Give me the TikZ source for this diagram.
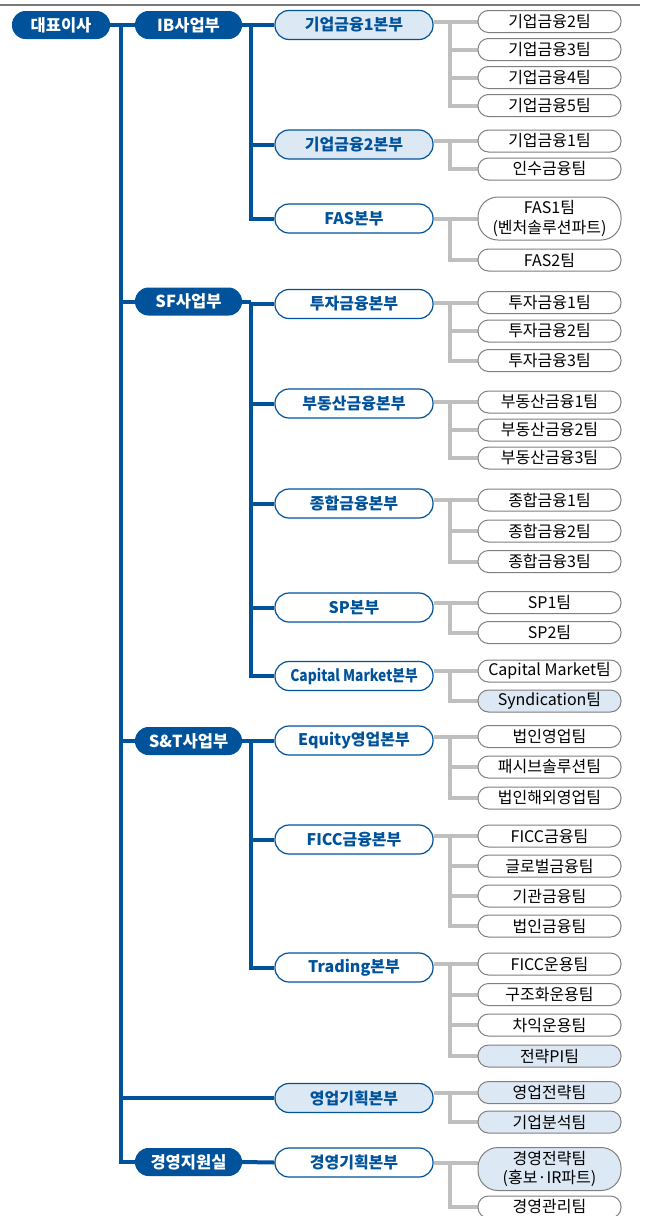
\documentclass[tikz,border=0pt]{standalone}
\usepackage{fontspec}
\setmainfont{Noto Sans CJK KR}
\usetikzlibrary{backgrounds}
\definecolor{dblue}{HTML}{00539B}
\definecolor{lblue}{HTML}{DDE8F5}
\definecolor{cgray}{HTML}{BFBFBF}
\definecolor{bgray}{HTML}{7F7F7F}
\definecolor{rule}{HTML}{7A7A7A}
\tikzset{
  lvl/.style={fill=dblue, text=white, font=\fontsize{16.5}{18}\selectfont\bfseries, minimum height=28pt, rounded corners=13.5pt, inner sep=0pt},
  topbox/.style={lvl, minimum width=98pt},
  divbox/.style={lvl, minimum width=107pt},
  hq/.style={draw=dblue, line width=1.2pt, fill=white, text=dblue, font=\fontsize{16}{18}\selectfont\bfseries, minimum width=158pt, minimum height=29pt, rounded corners=14pt, inner sep=0pt},
  hql/.style={hq, fill=lblue},
  team/.style={draw=bgray, line width=1pt, fill=white, text=black, font=\fontsize{16}{19.5}\selectfont, minimum width=143pt, minimum height=22pt, rounded corners=10.5pt, inner sep=0pt, align=center},
  teaml/.style={team, fill=lblue},
  teamtwo/.style={team, minimum height=43pt, rounded corners=20pt},
  bl/.style={draw=dblue, line width=4pt},
  gl/.style={draw=cgray, line width=4pt},
}
\begin{document}
\begin{tikzpicture}[x=1pt, y=-1pt]
\useasboundingbox (0,0) rectangle (649,1216);
\draw[rule, line width=2.5pt] (0,5) -- (640,5);

% top levels
\node[topbox] (ceo) at (61,25) {대표이사};
\node[divbox] (ib) at (188.5,25) {IB사업부};
\node[divbox] (sf) at (188.5,301.5) {SF사업부};
\node[divbox] (st) at (188.5,741) {S\&T사업부};
\node[divbox] (ms) at (188.5,1162) {경영지원실};

% HQ level
\node[hql] (b11) at (354,25) {기업금융1본부};
\node[hql] (b12) at (354,144.5) {기업금융2본부};
\node[hq] (b13) at (354,218.5) {FAS본부};
\node[hq] (b21) at (354,304) {투자금융본부};
\node[hq] (b22) at (354,403.5) {부동산금융본부};
\node[hq] (b23) at (354,503.5) {종합금융본부};
\node[hq] (b24) at (354,607.5) {SP본부};
\node[hq] (b25) at (354,676) {\scalebox{0.86}[1]{Capital Market본부}};
\node[hq] (b31) at (354,740.5) {Equity영업본부};
\node[hq] (b32) at (354,839.5) {FICC금융본부};
\node[hq] (b33) at (354,967.5) {Trading본부};
\node[hql] (b41) at (354,1098) {영업기획본부};
\node[hq] (b51) at (354,1162.5) {경영기획본부};

% teams
\node[team] (t11a) at (549.5,21.5) {기업금융2팀};
\node[team] (t11b) at (549.5,49.5) {기업금융3팀};
\node[team] (t11c) at (549.5,77.5) {기업금융4팀};
\node[team] (t11d) at (549.5,105.5) {기업금융5팀};
\node[team] (t12a) at (549.5,141) {기업금융1팀};
\node[team] (t12b) at (549.5,169) {인수금융팀};
\node[teamtwo] (t13a) at (549.5,218.5) {FAS1팀\\(벤처솔루션파트)};
\node[team] (t13b) at (549.5,260) {FAS2팀};
\node[team] (t21a) at (549.5,302.5) {투자금융1팀};
\node[team] (t21b) at (549.5,331) {투자금융2팀};
\node[team] (t21c) at (549.5,360.5) {투자금융3팀};
\node[team] (t22a) at (549.5,402) {부동산금융1팀};
\node[team] (t22b) at (549.5,430) {부동산금융2팀};
\node[team] (t22c) at (549.5,458) {부동산금융3팀};
\node[team] (t23a) at (549.5,500) {종합금융1팀};
\node[team] (t23b) at (549.5,531) {종합금융2팀};
\node[team] (t23c) at (549.5,561.5) {종합금융3팀};
\node[team] (t24a) at (549.5,602.5) {SP1팀};
\node[team] (t24b) at (549.5,632.5) {SP2팀};
\node[team] (t25a) at (549.5,671) {Capital Market팀};
\node[teaml] (t25b) at (549.5,701) {Syndication팀};
\node[team] (t31a) at (549.5,736.5) {법인영업팀};
\node[team] (t31b) at (549.5,767) {패시브솔루션팀};
\node[team] (t31c) at (549.5,798) {법인해외영업팀};
\node[team] (t32a) at (549.5,836) {FICC금융팀};
\node[team] (t32b) at (549.5,866) {글로벌금융팀};
\node[team] (t32c) at (549.5,896) {기관금융팀};
\node[team] (t32d) at (549.5,926) {법인금융팀};
\node[team] (t33a) at (549.5,964) {FICC운용팀};
\node[team] (t33b) at (549.5,994.5) {구조화운용팀};
\node[team] (t33c) at (549.5,1025) {차익운용팀};
\node[teaml] (t33d) at (549.5,1056) {전략PI팀};
\node[teaml] (t41a) at (549.5,1092.5) {영업전략팀};
\node[teaml] (t41b) at (549.5,1122) {기업분석팀};
\node[teamtwo, fill=lblue] (t51a) at (549.5,1169) {경영전략팀\\(홍보·IR파트)};
\node[team] (t51b) at (549.5,1207) {경영관리팀};

% connector coordinates
\coordinate (r0) at (121,25);
\coordinate (v1) at (250.5,25);
\coordinate (v2) at (250.5,301.5);
\coordinate (v3) at (250.5,741);
\coordinate (gx) at (449.5,0);

\begin{scope}[on background layer]
% blue trunk
\draw[bl] (ceo.east) -- (ib.west);
\foreach \n in {sf,st,b41,ms} \draw[bl] (r0) |- (\n.west);
% IB
\draw[bl] (ib.east) -- (b11.west);
\foreach \n in {b12,b13} \draw[bl] (v1) |- (\n.west);
% SF
\draw[bl] (sf.east) -- (v2);
\foreach \n in {b21,b22,b23,b24,b25} \draw[bl] (v2) |- (\n.west);
% S&T
\draw[bl] (st.east) -- (v3);
\foreach \n in {b31,b32,b33} \draw[bl] (v3) |- (\n.west);
% management
\draw[bl] (ms.east) -- (b51.west);

% gray team connectors
\draw[gl] (b11.east |- t11a.west) -- (t11a.west);
\foreach \t in {t11b,t11c,t11d} \draw[gl] (t11a.west -| gx) |- (\t.west);
\draw[gl] (b12.east |- t12a.west) -- (t12a.west);
\draw[gl] (t12a.west -| gx) |- (t12b.west);
\draw[gl] (b13.east) -- (b13.east -| t13a.west);
\draw[gl] (b13.east -| gx) |- (t13b.west);
\draw[gl] (b21.east |- t21a.west) -- (t21a.west);
\foreach \t in {t21b,t21c} \draw[gl] (t21a.west -| gx) |- (\t.west);
\draw[gl] (b22.east |- t22a.west) -- (t22a.west);
\foreach \t in {t22b,t22c} \draw[gl] (t22a.west -| gx) |- (\t.west);
\draw[gl] (b23.east |- t23a.west) -- (t23a.west);
\foreach \t in {t23b,t23c} \draw[gl] (t23a.west -| gx) |- (\t.west);
\draw[gl] (b24.east |- t24a.west) -- (t24a.west);
\draw[gl] (t24a.west -| gx) |- (t24b.west);
\draw[gl] (b25.east |- t25a.west) -- (t25a.west);
\draw[gl] (t25a.west -| gx) |- (t25b.west);
\draw[gl] (b31.east |- t31a.west) -- (t31a.west);
\foreach \t in {t31b,t31c} \draw[gl] (t31a.west -| gx) |- (\t.west);
\draw[gl] (b32.east |- t32a.west) -- (t32a.west);
\foreach \t in {t32b,t32c,t32d} \draw[gl] (t32a.west -| gx) |- (\t.west);
\draw[gl] (b33.east |- t33a.west) -- (t33a.west);
\foreach \t in {t33b,t33c,t33d} \draw[gl] (t33a.west -| gx) |- (\t.west);
\draw[gl] (b41.east |- t41a.west) -- (t41a.west);
\draw[gl] (t41a.west -| gx) |- (t41b.west);
\draw[gl] (b51.east) -- (b51.east -| t51a.west);
\draw[gl] (b51.east -| gx) |- (t51b.west);
\end{scope}
\end{tikzpicture}
\end{document}
